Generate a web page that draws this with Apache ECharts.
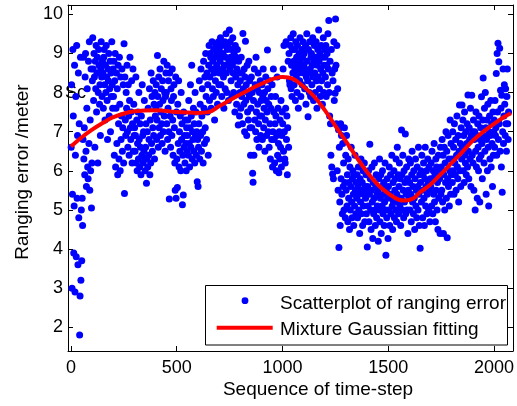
<!DOCTYPE html>
<html><head><meta charset="utf-8">
<script src="https://cdn.jsdelivr.net/npm/echarts@6/dist/echarts.min.js"></script>
<style>html,body{margin:0;padding:0;background:#fff}#c{width:517px;height:406px}</style>
</head><body><div id="c"></div>
<script>
// Ranging error (meter), one value every 2nd time-step, starting at step 1
const errA = [
6.6,8.2,3.0,5.4,9.1,7.4,3.9,5.1,8.7,2.9,6.4,7.9,3.8,9.2,5.3,6.9,3.6,8.5,4.8,7.2,1.8,2.8,8.9,3.2,5.0,
3.7,5.3,4.6,6.8,8.9,6.3,7.1,5.9,8.4,9.0,6.5,5.6,7.6,8.1,6.1,5.8,8.8,6.7,9.3,5.5,7.3,6.0,8.6,5.05,6.2,
8.3,9.4,8.6,7.8,9.0,8.4,6.6,8.8,8.1,9.2,7.5,8.5,8.9,6.2,8.0,9.1,8.7,7.7,8.2,6.9,8.6,9.3,8.4,7.9,8.8,
8.5,7.6,8.9,9.1,8.2,7.3,8.7,8.0,9.2,8.4,7.8,6.8,8.6,8.3,9.0,7.4,8.1,8.8,7.0,8.5,7.9,9.3,8.2,7.6,8.6,
7.9,8.8,6.4,8.3,9.0,6.1,7.6,8.5,6.7,8.1,5.9,8.7,7.2,6.3,8.9,7.7,6.0,8.4,6.8,7.4,8.6,6.5,7.1,8.2,6.2,
9.25,5.42,8.4,7.3,6.9,8.0,7.6,8.7,7.0,6.6,8.2,7.4,6.4,7.8,8.9,7.1,6.8,7.5,8.3,6.2,7.2,8.6,6.5,7.7,6.9,
7.1,6.5,6.9,8.4,6.2,7.3,6.0,6.7,7.5,6.3,8.0,6.8,6.1,7.2,6.6,5.9,7.4,6.4,8.2,6.9,6.2,7.0,6.5,7.8,6.3,
6.0,6.6,7.2,5.68,6.3,7.0,6.1,7.6,6.4,6.8,8.1,5.9,7.3,6.2,8.5,6.7,7.9,6.5,7.1,8.3,6.9,7.7,6.3,8.0,7.4,
7.6,8.2,6.8,7.3,8.95,7.9,6.6,8.4,7.1,7.7,8.6,6.9,7.5,8.1,7.2,6.7,8.3,7.8,7.0,8.8,7.4,8.0,6.5,7.9,8.5,
8.0,7.2,8.7,6.8,7.6,8.3,7.0,5.28,8.5,7.4,6.6,8.1,7.8,6.9,8.6,7.3,6.4,7.9,8.2,7.1,6.2,5.5,8.4,5.3,7.5
];
const errB = [
6.3,5.57,7.7,6.7,8.3,6.1,7.0,6.5,7.4,6.0,8.0,6.8,7.2,5.13,6.4,5.38,7.5,6.6,6.9,6.2,7.3,6.7,6.0,7.1,6.5,
6.9,7.3,6.4,7.8,6.7,6.1,7.1,8.2,6.6,7.4,8.7,6.3,7.0,6.8,7.6,6.5,7.2,6.2,8.0,6.9,7.5,6.4,7.0,5.72,6.8,
5.6,6.6,7.2,8.3,6.3,7.7,6.9,8.6,6.5,7.4,8.1,7.0,6.2,8.8,7.6,6.7,8.4,7.1,9.0,7.9,6.8,8.5,7.5,8.2,6.4,
8.7,9.2,7.8,8.4,9.0,8.9,7.6,8.6,9.3,8.1,8.8,7.9,9.1,8.5,7.3,8.9,8.3,9.2,8.0,8.7,9.0,7.7,8.6,9.3,8.2,
9.1,8.5,8.8,9.4,8.2,8.9,7.9,9.2,8.6,9.0,8.4,7.6,8.7,9.3,8.1,8.9,9.5,8.5,8.0,9.1,8.7,9.2,7.8,8.8,9.6,
8.6,9.3,8.9,8.3,9.1,7.9,8.7,9.4,8.5,8.0,9.0,8.8,7.5,9.2,8.4,8.9,7.7,8.6,9.1,8.2,7.17,8.8,8.5,7.4,8.0,
8.3,7.6,8.9,7.9,8.5,7.2,9.51,8.1,7.7,8.6,7.0,8.4,9.31,7.8,8.2,6.9,8.7,7.5,8.0,7.3,8.8,7.9,8.3,7.1,6.4,
7.6,8.4,7.1,8.0,5.94,5.71,7.8,6.4,8.6,7.3,8.2,7.0,8.9,7.5,6.8,8.1,7.7,8.5,7.2,6.6,8.0,7.4,8.3,6.9,7.8,
7.4,8.2,6.8,7.9,8.6,7.1,7.6,8.0,6.5,7.3,8.4,7.8,6.9,7.5,9.09,8.1,7.0,7.7,6.6,8.3,7.2,6.3,7.6,7.9,6.8,
8.2,6.1,7.0,8.6,7.5,6.8,6.2,7.2,7.9,7.4,6.0,6.9,8.4,6.4,7.6,6.7,5.95,7.0,6.3,7.3,6.6,7.8,6.1,6.9,7.5
];
const errC = [
7.2,8.6,6.5,9.2,7.0,6.3,6.2,7.6,9.3,6.8,7.4,5.9,7.1,8.8,6.6,9.0,8.3,8.2,9.2,9.4,8.1,8.7,7.9,9.1,8.5,
9.5,8.8,8.2,9.1,8.6,7.8,9.3,8.4,8.9,8.0,9.2,8.7,7.6,8.5,9.0,8.3,9.4,8.8,7.9,8.6,9.1,8.2,8.9,9.3,8.5,
8.7,9.0,8.1,8.6,9.2,7.7,8.4,9.5,8.8,8.3,7.38,9.1,8.5,8.0,9.3,8.6,7.9,8.9,9.0,8.2,8.7,9.4,8.4,7.8,8.8,
9.2,8.5,8.0,8.9,9.3,8.3,7.6,8.7,9.1,8.4,9.6,8.8,8.1,9.0,7.9,8.6,9.2,8.3,8.9,7.7,8.5,9.4,8.0,8.7,9.1,
8.9,8.4,9.2,7.9,8.7,9.0,8.2,9.5,8.6,9.84,8.0,7.4,8.8,7.2,6.4,9.1,6.1,8.5,5.92,8.3,5.8,9.3,7.8,8.6,7.98,
9.88,8.7,7.2,9.2,6.0,8.1,5.5,7.05,4.04,6.6,5.2,4.6,7.2,5.8,6.9,5.4,4.9,6.7,5.6,6.2,5.0,7.1,5.7,4.8,6.4,
5.5,6.9,5.1,5.9,4.7,6.3,5.3,5.7,4.5,6.1,5.0,5.6,6.6,5.2,4.8,5.8,6.0,5.4,4.6,5.9,5.1,6.4,5.5,4.9,5.7,
5.3,5.9,4.8,5.6,6.1,5.0,5.4,4.4,5.8,5.2,6.3,4.9,5.5,5.7,4.6,6.0,5.1,5.4,6.2,4.7,5.6,5.3,5.9,4.9,5.5,
4.05,5.6,5.1,6.0,4.7,5.4,6.68,5.8,5.0,4.5,5.5,6.1,5.2,4.27,5.7,4.9,5.3,6.2,5.0,4.6,5.6,5.9,4.8,5.4,5.1,
5.5,4.2,5.8,5.0,6.3,4.7,5.3,5.9,4.4,5.6,5.1,6.0,4.9,5.4,5.7,4.6,5.2,6.2,5.0,3.84,5.5,4.8,5.8,5.3,4.27
];
const errD = [
5.6,5.0,6.1,4.6,5.4,5.9,4.9,5.3,6.4,5.1,4.5,5.7,5.2,6.0,4.8,5.5,5.8,5.0,6.3,4.7,5.4,6.6,5.2,5.9,4.9,
5.6,6.2,5.1,5.8,4.6,5.3,7.04,5.9,5.0,6.4,5.5,4.8,6.0,5.2,5.7,6.94,4.9,5.4,6.1,5.0,5.8,4.4,5.5,6.3,5.3,
5.7,5.0,6.2,5.4,4.7,5.9,6.5,5.2,5.6,4.9,6.0,5.3,4.5,5.8,6.3,5.1,5.5,4.8,6.1,5.6,5.0,6.6,5.4,4.6,5.9,
4.02,5.7,6.0,5.2,6.4,5.5,4.8,5.9,6.2,5.3,4.6,5.8,6.6,5.1,5.6,6.0,4.9,5.4,6.3,5.7,5.0,6.1,5.5,4.7,5.8,
5.6,6.2,5.1,6.5,5.8,4.9,6.0,5.4,6.7,5.2,5.9,4.7,6.3,5.5,6.1,5.0,5.7,4.5,6.4,5.3,6.0,5.8,4.4,6.6,5.4,
6.1,5.5,6.8,5.2,6.4,4.4,5.9,6.6,5.0,6.2,5.7,7.0,5.3,6.5,4.29,5.8,6.9,5.6,6.3,5.1,6.0,7.3,5.4,6.7,5.9,
6.3,5.7,7.0,6.0,6.6,5.4,7.2,6.2,5.9,6.8,5.5,6.4,7.4,6.1,5.8,6.9,5.2,6.5,7.68,6.0,6.7,5.6,7.1,6.3,7.68,
6.6,7.3,6.0,6.9,5.7,7.5,6.4,6.2,7.0,5.9,6.7,7.2,6.1,7.94,6.5,5.8,7.1,6.8,6.3,7.6,5.6,6.9,7.93,6.4,7.0,
6.2,7.3,5.5,6.8,7.0,5.0,6.5,7.5,6.1,6.9,5.3,7.2,6.6,6.0,7.4,6.3,5.2,6.8,7.1,6.4,7.89,6.7,5.8,7.3,8.37,
6.9,6.2,7.6,6.5,8.0,7.1,5.4,6.8,7.3,6.0,7.7,6.6,5.1,7.0,7.4,6.3,6.9,7.8,6.1,7.2,6.7,5.6,7.5,6.4,7.0
];
const errE = [
7.3,6.6,7.8,6.9,7.1,8.49,6.4,9.0,7.5,9.26,6.8,8.79,7.2,9.13,6.5,8.06,7.6,6.1,7.93,5.45,7.0,8.6,6.7,7.4,8.2,
7.7,6.9,8.1,7.2,6.5,7.9,8.6,7.2,6.8,7.5
];
const firstStep = 1, stepGap = 2;

// Mixture Gaussian fitting curve
const fitT = [0,50,100,150,200,300,400,500,600,650,700,800,900,1000,1050,1100,1150,1200,1250,1300,1350,1400,1450,1500,1550,1580,1620,1650,1700,1750,1800,1850,1900,1950,2000,2050,2080];
const fitV = [6.62,6.85,7.05,7.22,7.37,7.52,7.55,7.5,7.48,7.5,7.65,7.95,8.22,8.4,8.35,8.15,7.9,7.55,7.15,6.75,6.35,5.97,5.65,5.42,5.26,5.24,5.3,5.45,5.65,5.92,6.2,6.48,6.77,7.0,7.2,7.38,7.47];

const xTicks = [0,500,1000,1500,2000];
const yTicks = [2,3,4,5,6,7,8,9,10];
const seriesNames = ['Scatterplot of ranging error','Mixture Gaussian fitting'];
const xName = 'Sequence of time-step';
const yName = 'Ranging error /meter';

const errAll = errA.concat(errB, errC, errD, errE);
const scatterData = errAll.map((v, i) => [firstStep + stepGap * i, v]);
const fitData = fitT.map((t, i) => [t, fitV[i]]);

const FONT = 'Liberation Sans, Arial, Helvetica, sans-serif';
const XMIN = -14, XMAX = 2090, YMIN = 1.394, YMAX = 10.238;
const plain = v => String(v);

function xAxisCfg(pos, labels) {
  return {
    type: 'value', min: XMIN, max: XMAX, position: pos,
    axisLine: { show: true, onZero: false, lineStyle: { color: '#000', width: 1 } },
    axisTick: { show: true, inside: true, length: 5, customValues: xTicks, lineStyle: { color: '#000' } },
    axisLabel: { show: labels, customValues: xTicks, formatter: plain, fontSize: 18, color: '#000', fontFamily: FONT, margin: 8 },
    splitLine: { show: false }
  };
}
function yAxisCfg(pos, labels) {
  return {
    type: 'value', min: YMIN, max: YMAX, position: pos,
    axisLine: { show: true, onZero: false, lineStyle: { color: '#000', width: 1 } },
    axisTick: { show: true, inside: true, length: 5, customValues: yTicks, lineStyle: { color: '#000' } },
    axisLabel: { show: labels, customValues: yTicks, formatter: plain, fontSize: 18, color: '#000', fontFamily: FONT, margin: 5 },
    splitLine: { show: false }
  };
}

const chart = echarts.init(document.getElementById('c'), null, { renderer: 'canvas' });
chart.setOption({
  animation: false,
  backgroundColor: '#fff',
  grid: { left: 68, top: 5, width: 445, height: 346, containLabel: false },
  xAxis: [xAxisCfg('bottom', true), xAxisCfg('top', false)],
  yAxis: [yAxisCfg('left', true), yAxisCfg('right', false)],
  series: [
    { name: seriesNames[0], type: 'scatter', xAxisIndex: 0, yAxisIndex: 0, data: scatterData,
      symbol: 'circle', symbolSize: 7, itemStyle: { color: '#0000ff', opacity: 1 }, z: 3, silent: true },
    { name: seriesNames[1], type: 'line', xAxisIndex: 0, yAxisIndex: 0, data: fitData, smooth: 0.4,
      showSymbol: false, lineStyle: { color: '#ff0000', width: 4 }, z: 4, silent: true }
  ],
  graphic: [
    { type: 'text', z: 1, left: 65, top: 84, style: { text: 'Sc', font: '18px ' + FONT, fill: '#000' } },
    { type: 'text', z: 5, x: 23, y: 172, rotation: Math.PI / 2,
      style: { text: yName, font: '19px ' + FONT, fill: '#000', align: 'center', verticalAlign: 'middle' } },
    { type: 'text', z: 5, x: 318, y: 390,
      style: { text: xName, font: '19px ' + FONT, fill: '#000', align: 'center', verticalAlign: 'middle' } },
    { type: 'rect', z: 10, shape: { x: 205.5, y: 285.5, width: 302, height: 59.5 },
      style: { fill: '#fff', stroke: '#000', lineWidth: 1 } },
    { type: 'circle', z: 11, shape: { cx: 245, cy: 300.7, r: 3.4 }, style: { fill: '#0000ff' } },
    { type: 'line', z: 11, shape: { x1: 216.7, y1: 327.7, x2: 272.7, y2: 327.7 },
      style: { stroke: '#ff0000', lineWidth: 4 } },
    { type: 'text', z: 11, x: 280, y: 303.7,
      style: { text: seriesNames[0], font: '19px ' + FONT, fill: '#000', verticalAlign: 'middle' } },
    { type: 'text', z: 11, x: 280, y: 329.7,
      style: { text: seriesNames[1], font: '19px ' + FONT, fill: '#000', verticalAlign: 'middle' } }
  ]
});
</script>
</body></html>
